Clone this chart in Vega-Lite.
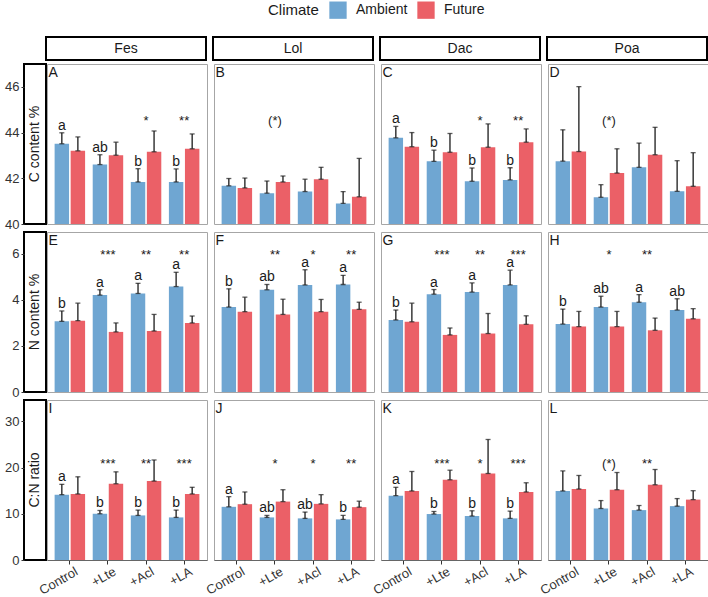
{
"$schema":"https://vega.github.io/schema/vega-lite/v6.json",
"padding":{"left":3,"top":1,"right":0,"bottom":0},
"config":{"font":"Liberation Sans","axis":{"labelFont":"Liberation Sans"},
"legend":{"orient":"none","legendX":244,"legendY":-36,"direction":"horizontal","titleOrient":"left","symbolType":"square","symbolSize":300,"symbolStrokeWidth":0,"symbolOpacity":1,"labelFontSize":14,"titleFontSize":15,"titleFontWeight":"normal","titleColor":"#1a1a1a","labelColor":"#1a1a1a","columnPadding":9,"labelOffset":9,"titlePadding":10}},
"data":{"values":[
{"v":"C","sp":"Fes","trt":"Control","cl":"Ambient","m":43.51,"u":43.99,"lab":"a","pl":"A"},
{"v":"C","sp":"Fes","trt":"Control","cl":"Future","m":43.20,"u":43.81},
{"v":"C","sp":"Fes","trt":"+Lte","cl":"Ambient","m":42.60,"u":43.03,"lab":"ab"},
{"v":"C","sp":"Fes","trt":"+Lte","cl":"Future","m":43.01,"u":43.58},
{"v":"C","sp":"Fes","trt":"+Acl","cl":"Ambient","m":41.84,"u":42.42,"lab":"b","st":"*"},
{"v":"C","sp":"Fes","trt":"+Acl","cl":"Future","m":43.16,"u":44.07},
{"v":"C","sp":"Fes","trt":"+LA","cl":"Ambient","m":41.84,"u":42.41,"lab":"b","st":"**"},
{"v":"C","sp":"Fes","trt":"+LA","cl":"Future","m":43.29,"u":43.94},
{"v":"C","sp":"Lol","trt":"Control","cl":"Ambient","m":41.67,"u":41.99,"pl":"B"},
{"v":"C","sp":"Lol","trt":"Control","cl":"Future","m":41.58,"u":42.01},
{"v":"C","sp":"Lol","trt":"+Lte","cl":"Ambient","m":41.35,"u":41.88,"st":"(*)"},
{"v":"C","sp":"Lol","trt":"+Lte","cl":"Future","m":41.84,"u":42.10},
{"v":"C","sp":"Lol","trt":"+Acl","cl":"Ambient","m":41.42,"u":41.96},
{"v":"C","sp":"Lol","trt":"+Acl","cl":"Future","m":41.96,"u":42.48},
{"v":"C","sp":"Lol","trt":"+LA","cl":"Ambient","m":40.90,"u":41.42},
{"v":"C","sp":"Lol","trt":"+LA","cl":"Future","m":41.19,"u":42.87},
{"v":"C","sp":"Dac","trt":"Control","cl":"Ambient","m":43.77,"u":44.27,"lab":"a","pl":"C"},
{"v":"C","sp":"Dac","trt":"Control","cl":"Future","m":43.38,"u":44.00},
{"v":"C","sp":"Dac","trt":"+Lte","cl":"Ambient","m":42.74,"u":43.23,"lab":"b"},
{"v":"C","sp":"Dac","trt":"+Lte","cl":"Future","m":43.14,"u":43.96},
{"v":"C","sp":"Dac","trt":"+Acl","cl":"Ambient","m":41.87,"u":42.45,"lab":"b","st":"*"},
{"v":"C","sp":"Dac","trt":"+Acl","cl":"Future","m":43.36,"u":44.38},
{"v":"C","sp":"Dac","trt":"+LA","cl":"Ambient","m":41.93,"u":42.46,"lab":"b","st":"**"},
{"v":"C","sp":"Dac","trt":"+LA","cl":"Future","m":43.58,"u":44.16},
{"v":"C","sp":"Poa","trt":"Control","cl":"Ambient","m":42.75,"u":44.12,"pl":"D"},
{"v":"C","sp":"Poa","trt":"Control","cl":"Future","m":43.17,"u":46.01},
{"v":"C","sp":"Poa","trt":"+Lte","cl":"Ambient","m":41.17,"u":41.72,"st":"(*)"},
{"v":"C","sp":"Poa","trt":"+Lte","cl":"Future","m":42.23,"u":43.29},
{"v":"C","sp":"Poa","trt":"+Acl","cl":"Ambient","m":42.48,"u":43.54},
{"v":"C","sp":"Poa","trt":"+Acl","cl":"Future","m":43.03,"u":44.23},
{"v":"C","sp":"Poa","trt":"+LA","cl":"Ambient","m":41.43,"u":42.77},
{"v":"C","sp":"Poa","trt":"+LA","cl":"Future","m":41.65,"u":43.12},
{"v":"N","sp":"Fes","trt":"Control","cl":"Ambient","m":3.07,"u":3.52,"lab":"b","pl":"E"},
{"v":"N","sp":"Fes","trt":"Control","cl":"Future","m":3.10,"u":3.86},
{"v":"N","sp":"Fes","trt":"+Lte","cl":"Ambient","m":4.21,"u":4.44,"lab":"a","st":"***"},
{"v":"N","sp":"Fes","trt":"+Lte","cl":"Future","m":2.61,"u":3.00},
{"v":"N","sp":"Fes","trt":"+Acl","cl":"Ambient","m":4.28,"u":4.72,"lab":"a","st":"**"},
{"v":"N","sp":"Fes","trt":"+Acl","cl":"Future","m":2.65,"u":3.37},
{"v":"N","sp":"Fes","trt":"+LA","cl":"Ambient","m":4.58,"u":5.20,"lab":"a","st":"**"},
{"v":"N","sp":"Fes","trt":"+LA","cl":"Future","m":3.00,"u":3.30},
{"v":"N","sp":"Lol","trt":"Control","cl":"Ambient","m":3.69,"u":4.48,"lab":"b","pl":"F"},
{"v":"N","sp":"Lol","trt":"Control","cl":"Future","m":3.49,"u":4.12},
{"v":"N","sp":"Lol","trt":"+Lte","cl":"Ambient","m":4.44,"u":4.67,"lab":"ab","st":"**"},
{"v":"N","sp":"Lol","trt":"+Lte","cl":"Future","m":3.37,"u":4.03},
{"v":"N","sp":"Lol","trt":"+Acl","cl":"Ambient","m":4.65,"u":5.31,"lab":"a","st":"*"},
{"v":"N","sp":"Lol","trt":"+Acl","cl":"Future","m":3.49,"u":4.02},
{"v":"N","sp":"Lol","trt":"+LA","cl":"Ambient","m":4.67,"u":5.07,"lab":"a","st":"**"},
{"v":"N","sp":"Lol","trt":"+LA","cl":"Future","m":3.59,"u":3.90},
{"v":"N","sp":"Dac","trt":"Control","cl":"Ambient","m":3.13,"u":3.56,"lab":"b","pl":"G"},
{"v":"N","sp":"Dac","trt":"Control","cl":"Future","m":3.05,"u":3.86},
{"v":"N","sp":"Dac","trt":"+Lte","cl":"Ambient","m":4.25,"u":4.45,"lab":"a","st":"***"},
{"v":"N","sp":"Dac","trt":"+Lte","cl":"Future","m":2.48,"u":2.78},
{"v":"N","sp":"Dac","trt":"+Acl","cl":"Ambient","m":4.34,"u":4.74,"lab":"a","st":"**"},
{"v":"N","sp":"Dac","trt":"+Acl","cl":"Future","m":2.54,"u":3.41},
{"v":"N","sp":"Dac","trt":"+LA","cl":"Ambient","m":4.65,"u":5.29,"lab":"a","st":"***"},
{"v":"N","sp":"Dac","trt":"+LA","cl":"Future","m":2.94,"u":3.31},
{"v":"N","sp":"Poa","trt":"Control","cl":"Ambient","m":2.95,"u":3.60,"lab":"b","pl":"H"},
{"v":"N","sp":"Poa","trt":"Control","cl":"Future","m":2.84,"u":3.50},
{"v":"N","sp":"Poa","trt":"+Lte","cl":"Ambient","m":3.69,"u":4.16,"lab":"ab","st":"*"},
{"v":"N","sp":"Poa","trt":"+Lte","cl":"Future","m":2.84,"u":3.50},
{"v":"N","sp":"Poa","trt":"+Acl","cl":"Ambient","m":3.90,"u":4.23,"lab":"a","st":"**"},
{"v":"N","sp":"Poa","trt":"+Acl","cl":"Future","m":2.68,"u":3.21},
{"v":"N","sp":"Poa","trt":"+LA","cl":"Ambient","m":3.56,"u":4.05,"lab":"ab"},
{"v":"N","sp":"Poa","trt":"+LA","cl":"Future","m":3.18,"u":3.62},
{"v":"CN","sp":"Fes","trt":"Control","cl":"Ambient","m":14.13,"u":16.36,"lab":"a","pl":"I"},
{"v":"CN","sp":"Fes","trt":"Control","cl":"Future","m":14.28,"u":17.99},
{"v":"CN","sp":"Fes","trt":"+Lte","cl":"Ambient","m":10.00,"u":10.71,"lab":"b","st":"***"},
{"v":"CN","sp":"Fes","trt":"+Lte","cl":"Future","m":16.49,"u":19.06},
{"v":"CN","sp":"Fes","trt":"+Acl","cl":"Ambient","m":9.64,"u":10.79,"lab":"b","st":"**"},
{"v":"CN","sp":"Fes","trt":"+Acl","cl":"Future","m":17.07,"u":21.63},
{"v":"CN","sp":"Fes","trt":"+LA","cl":"Ambient","m":9.21,"u":10.79,"lab":"b","st":"***"},
{"v":"CN","sp":"Fes","trt":"+LA","cl":"Future","m":14.28,"u":15.72},
{"v":"CN","sp":"Lol","trt":"Control","cl":"Ambient","m":11.50,"u":13.70,"lab":"a","pl":"J"},
{"v":"CN","sp":"Lol","trt":"Control","cl":"Future","m":12.07,"u":14.71},
{"v":"CN","sp":"Lol","trt":"+Lte","cl":"Ambient","m":9.21,"u":9.64,"lab":"ab","st":"*"},
{"v":"CN","sp":"Lol","trt":"+Lte","cl":"Future","m":12.63,"u":15.20},
{"v":"CN","sp":"Lol","trt":"+Acl","cl":"Ambient","m":9.00,"u":10.36,"lab":"ab","st":"*"},
{"v":"CN","sp":"Lol","trt":"+Acl","cl":"Future","m":12.14,"u":14.13},
{"v":"CN","sp":"Lol","trt":"+LA","cl":"Ambient","m":8.78,"u":9.64,"lab":"b","st":"**"},
{"v":"CN","sp":"Lol","trt":"+LA","cl":"Future","m":11.43,"u":12.72},
{"v":"CN","sp":"Dac","trt":"Control","cl":"Ambient","m":13.92,"u":15.72,"lab":"a","pl":"K"},
{"v":"CN","sp":"Dac","trt":"Control","cl":"Future","m":14.93,"u":19.14},
{"v":"CN","sp":"Dac","trt":"+Lte","cl":"Ambient","m":9.94,"u":10.49,"lab":"b","st":"***"},
{"v":"CN","sp":"Dac","trt":"+Lte","cl":"Future","m":17.35,"u":19.42},
{"v":"CN","sp":"Dac","trt":"+Acl","cl":"Ambient","m":9.51,"u":10.64,"lab":"b","st":"*"},
{"v":"CN","sp":"Dac","trt":"+Acl","cl":"Future","m":18.71,"u":26.06},
{"v":"CN","sp":"Dac","trt":"+LA","cl":"Ambient","m":9.00,"u":10.57,"lab":"b","st":"***"},
{"v":"CN","sp":"Dac","trt":"+LA","cl":"Future","m":14.71,"u":16.70},
{"v":"CN","sp":"Poa","trt":"Control","cl":"Ambient","m":14.93,"u":19.27,"pl":"L"},
{"v":"CN","sp":"Poa","trt":"Control","cl":"Future","m":15.35,"u":18.28},
{"v":"CN","sp":"Poa","trt":"+Lte","cl":"Ambient","m":11.14,"u":12.85,"st":"(*)"},
{"v":"CN","sp":"Poa","trt":"+Lte","cl":"Future","m":15.20,"u":18.92},
{"v":"CN","sp":"Poa","trt":"+Acl","cl":"Ambient","m":10.79,"u":11.78,"st":"**"},
{"v":"CN","sp":"Poa","trt":"+Acl","cl":"Future","m":16.27,"u":19.57},
{"v":"CN","sp":"Poa","trt":"+LA","cl":"Ambient","m":11.65,"u":13.28},
{"v":"CN","sp":"Poa","trt":"+LA","cl":"Future","m":13.06,"u":14.99}
]},
"spacing":2,
"vconcat":[
{"hconcat":[
 {"width":22,"height":23,"view":{"stroke":null},"data":{"values":[{"t":""}]},"mark":{"type":"text"},"encoding":{"text":{"field":"t"}}},
 {"hconcat":[
  {"width":160,"height":23,"view":{"stroke":"black","strokeWidth":2},"data":{"values":[{"t":"Fes"}]},"mark":{"type":"text","fontSize":14,"color":"#1a1a1a"},"encoding":{"text":{"field":"t"}}},
  {"width":160,"height":23,"view":{"stroke":"black","strokeWidth":2},"data":{"values":[{"t":"Lol"}]},"mark":{"type":"text","fontSize":14,"color":"#1a1a1a"},"encoding":{"text":{"field":"t"}}},
  {"width":160,"height":23,"view":{"stroke":"black","strokeWidth":2},"data":{"values":[{"t":"Dac"}]},"mark":{"type":"text","fontSize":14,"color":"#1a1a1a"},"encoding":{"text":{"field":"t"}}},
  {"width":160,"height":23,"view":{"stroke":"black","strokeWidth":2},"data":{"values":[{"t":"Poa"}]},"mark":{"type":"text","fontSize":14,"color":"#1a1a1a"},"encoding":{"text":{"field":"t"}}}
 ],"spacing":7,"bounds":"flush"}
],"spacing":-1},
{"vconcat":[
{"hconcat":[
 {"width":22,"height":160,"view":{"stroke":"black","strokeWidth":2},"data":{"values":[{"t":"C content %"}]},"mark":{"type":"text","angle":270,"fontSize":14,"color":"#1a1a1a","align":"center","baseline":"middle"},"encoding":{"y":{"datum":43.5,"type":"quantitative","scale":{"domain":[40,47],"nice":false,"zero":false},"axis":{"title":null,"values":[40,42,44,46],"domain":false,"grid":false,"labelFontSize":13,"labelColor":"#333","tickColor":"#333","tickSize":3,"labelPadding":2}},"text":{"field":"t"}}},
 {"hconcat":[
  {"width":160,"height":160,"view":{"stroke":"#a6a6a6"},"transform":[{"filter":"datum.v==='C'&&datum.sp==='Fes'"}],"encoding":{"x":{"field":"trt","type":"nominal","sort":["Control","+Lte","+Acl","+LA"],"scale":{"type":"band","paddingInner":0.2,"paddingOuter":0.2},"axis":null}},"layer":[
   {"mark":{"type":"bar","clip":true},"encoding":{"xOffset":{"field":"cl","type":"nominal","sort":["Ambient","Future"],"scale":{"paddingInner":0.1}},"y":{"field":"m","type":"quantitative","scale":{"domain":[40,47],"nice":false,"zero":false},"axis":null},"color":{"field":"cl","type":"nominal","title":"Climate","scale":{"domain":["Ambient","Future"],"range":["#6fa6d2","#eb6067"]}}}},
   {"mark":{"type":"rule","color":"#1a1a1a","strokeWidth":1.3},"encoding":{"xOffset":{"field":"cl","type":"nominal","sort":["Ambient","Future"]},"y":{"field":"m","type":"quantitative"},"y2":{"field":"u"}}},
   {"mark":{"type":"tick","color":"#1a1a1a","thickness":1.3,"size":5},"encoding":{"xOffset":{"field":"cl","type":"nominal","sort":["Ambient","Future"]},"y":{"field":"u","type":"quantitative"}}},
   {"mark":{"type":"tick","color":"#1a1a1a","thickness":1.3,"size":5},"encoding":{"xOffset":{"field":"cl","type":"nominal","sort":["Ambient","Future"]},"y":{"field":"m","type":"quantitative"}}},
   {"transform":[{"filter":"datum.lab"}],"mark":{"type":"text","fontSize":14,"baseline":"alphabetic","dy":-3,"color":"#1a1a1a"},"encoding":{"xOffset":{"field":"cl","type":"nominal","sort":["Ambient","Future"]},"y":{"field":"u","type":"quantitative"},"text":{"field":"lab"}}},
   {"transform":[{"filter":"datum.st"}],"mark":{"type":"text","fontSize":13,"baseline":"alphabetic","color":"#1a1a1a"},"encoding":{"y":{"datum":44.35},"text":{"field":"st"}}},
   {"transform":[{"filter":"datum.pl"}],"mark":{"type":"text","fontSize":14,"align":"left","baseline":"top","dx":-6,"dy":2,"color":"#1a1a1a"},"encoding":{"x":{"datum":"Control","bandPosition":0},"y":{"datum":47},"text":{"field":"pl"}}}
  ]},
  {"width":160,"height":160,"view":{"stroke":"#a6a6a6"},"transform":[{"filter":"datum.v==='C'&&datum.sp==='Lol'"}],"encoding":{"x":{"field":"trt","type":"nominal","sort":["Control","+Lte","+Acl","+LA"],"scale":{"type":"band","paddingInner":0.2,"paddingOuter":0.2},"axis":null}},"layer":[
   {"mark":{"type":"bar","clip":true},"encoding":{"xOffset":{"field":"cl","type":"nominal","sort":["Ambient","Future"],"scale":{"paddingInner":0.1}},"y":{"field":"m","type":"quantitative","scale":{"domain":[40,47],"nice":false,"zero":false},"axis":null},"color":{"field":"cl","type":"nominal","title":"Climate","scale":{"domain":["Ambient","Future"],"range":["#6fa6d2","#eb6067"]}}}},
   {"mark":{"type":"rule","color":"#1a1a1a","strokeWidth":1.3},"encoding":{"xOffset":{"field":"cl","type":"nominal","sort":["Ambient","Future"]},"y":{"field":"m","type":"quantitative"},"y2":{"field":"u"}}},
   {"mark":{"type":"tick","color":"#1a1a1a","thickness":1.3,"size":5},"encoding":{"xOffset":{"field":"cl","type":"nominal","sort":["Ambient","Future"]},"y":{"field":"u","type":"quantitative"}}},
   {"mark":{"type":"tick","color":"#1a1a1a","thickness":1.3,"size":5},"encoding":{"xOffset":{"field":"cl","type":"nominal","sort":["Ambient","Future"]},"y":{"field":"m","type":"quantitative"}}},
   {"transform":[{"filter":"datum.lab"}],"mark":{"type":"text","fontSize":14,"baseline":"alphabetic","dy":-3,"color":"#1a1a1a"},"encoding":{"xOffset":{"field":"cl","type":"nominal","sort":["Ambient","Future"]},"y":{"field":"u","type":"quantitative"},"text":{"field":"lab"}}},
   {"transform":[{"filter":"datum.st"}],"mark":{"type":"text","fontSize":13,"baseline":"alphabetic","color":"#1a1a1a"},"encoding":{"y":{"datum":44.35},"text":{"field":"st"}}},
   {"transform":[{"filter":"datum.pl"}],"mark":{"type":"text","fontSize":14,"align":"left","baseline":"top","dx":-6,"dy":2,"color":"#1a1a1a"},"encoding":{"x":{"datum":"Control","bandPosition":0},"y":{"datum":47},"text":{"field":"pl"}}}
  ]},
  {"width":160,"height":160,"view":{"stroke":"#a6a6a6"},"transform":[{"filter":"datum.v==='C'&&datum.sp==='Dac'"}],"encoding":{"x":{"field":"trt","type":"nominal","sort":["Control","+Lte","+Acl","+LA"],"scale":{"type":"band","paddingInner":0.2,"paddingOuter":0.2},"axis":null}},"layer":[
   {"mark":{"type":"bar","clip":true},"encoding":{"xOffset":{"field":"cl","type":"nominal","sort":["Ambient","Future"],"scale":{"paddingInner":0.1}},"y":{"field":"m","type":"quantitative","scale":{"domain":[40,47],"nice":false,"zero":false},"axis":null},"color":{"field":"cl","type":"nominal","title":"Climate","scale":{"domain":["Ambient","Future"],"range":["#6fa6d2","#eb6067"]}}}},
   {"mark":{"type":"rule","color":"#1a1a1a","strokeWidth":1.3},"encoding":{"xOffset":{"field":"cl","type":"nominal","sort":["Ambient","Future"]},"y":{"field":"m","type":"quantitative"},"y2":{"field":"u"}}},
   {"mark":{"type":"tick","color":"#1a1a1a","thickness":1.3,"size":5},"encoding":{"xOffset":{"field":"cl","type":"nominal","sort":["Ambient","Future"]},"y":{"field":"u","type":"quantitative"}}},
   {"mark":{"type":"tick","color":"#1a1a1a","thickness":1.3,"size":5},"encoding":{"xOffset":{"field":"cl","type":"nominal","sort":["Ambient","Future"]},"y":{"field":"m","type":"quantitative"}}},
   {"transform":[{"filter":"datum.lab"}],"mark":{"type":"text","fontSize":14,"baseline":"alphabetic","dy":-3,"color":"#1a1a1a"},"encoding":{"xOffset":{"field":"cl","type":"nominal","sort":["Ambient","Future"]},"y":{"field":"u","type":"quantitative"},"text":{"field":"lab"}}},
   {"transform":[{"filter":"datum.st"}],"mark":{"type":"text","fontSize":13,"baseline":"alphabetic","color":"#1a1a1a"},"encoding":{"y":{"datum":44.35},"text":{"field":"st"}}},
   {"transform":[{"filter":"datum.pl"}],"mark":{"type":"text","fontSize":14,"align":"left","baseline":"top","dx":-6,"dy":2,"color":"#1a1a1a"},"encoding":{"x":{"datum":"Control","bandPosition":0},"y":{"datum":47},"text":{"field":"pl"}}}
  ]},
  {"width":160,"height":160,"view":{"stroke":"#a6a6a6"},"transform":[{"filter":"datum.v==='C'&&datum.sp==='Poa'"}],"encoding":{"x":{"field":"trt","type":"nominal","sort":["Control","+Lte","+Acl","+LA"],"scale":{"type":"band","paddingInner":0.2,"paddingOuter":0.2},"axis":null}},"layer":[
   {"mark":{"type":"bar","clip":true},"encoding":{"xOffset":{"field":"cl","type":"nominal","sort":["Ambient","Future"],"scale":{"paddingInner":0.1}},"y":{"field":"m","type":"quantitative","scale":{"domain":[40,47],"nice":false,"zero":false},"axis":null},"color":{"field":"cl","type":"nominal","title":"Climate","scale":{"domain":["Ambient","Future"],"range":["#6fa6d2","#eb6067"]}}}},
   {"mark":{"type":"rule","color":"#1a1a1a","strokeWidth":1.3},"encoding":{"xOffset":{"field":"cl","type":"nominal","sort":["Ambient","Future"]},"y":{"field":"m","type":"quantitative"},"y2":{"field":"u"}}},
   {"mark":{"type":"tick","color":"#1a1a1a","thickness":1.3,"size":5},"encoding":{"xOffset":{"field":"cl","type":"nominal","sort":["Ambient","Future"]},"y":{"field":"u","type":"quantitative"}}},
   {"mark":{"type":"tick","color":"#1a1a1a","thickness":1.3,"size":5},"encoding":{"xOffset":{"field":"cl","type":"nominal","sort":["Ambient","Future"]},"y":{"field":"m","type":"quantitative"}}},
   {"transform":[{"filter":"datum.lab"}],"mark":{"type":"text","fontSize":14,"baseline":"alphabetic","dy":-3,"color":"#1a1a1a"},"encoding":{"xOffset":{"field":"cl","type":"nominal","sort":["Ambient","Future"]},"y":{"field":"u","type":"quantitative"},"text":{"field":"lab"}}},
   {"transform":[{"filter":"datum.st"}],"mark":{"type":"text","fontSize":13,"baseline":"alphabetic","color":"#1a1a1a"},"encoding":{"y":{"datum":44.35},"text":{"field":"st"}}},
   {"transform":[{"filter":"datum.pl"}],"mark":{"type":"text","fontSize":14,"align":"left","baseline":"top","dx":-6,"dy":2,"color":"#1a1a1a"},"encoding":{"x":{"datum":"Control","bandPosition":0},"y":{"datum":47},"text":{"field":"pl"}}}
  ]}
 ],"spacing":7,"bounds":"flush"}
],"spacing":-2},
{"hconcat":[
 {"width":22,"height":160,"view":{"stroke":"black","strokeWidth":2},"data":{"values":[{"t":"N content %"}]},"mark":{"type":"text","angle":270,"fontSize":14,"color":"#1a1a1a","align":"center","baseline":"middle"},"encoding":{"y":{"datum":3.475,"type":"quantitative","scale":{"domain":[0,6.95],"nice":false,"zero":false},"axis":{"title":null,"values":[0,2,4,6],"domain":false,"grid":false,"labelFontSize":13,"labelColor":"#333","tickColor":"#333","tickSize":3,"labelPadding":2}},"text":{"field":"t"}}},
 {"hconcat":[
  {"width":160,"height":160,"view":{"stroke":"#a6a6a6"},"transform":[{"filter":"datum.v==='N'&&datum.sp==='Fes'"}],"encoding":{"x":{"field":"trt","type":"nominal","sort":["Control","+Lte","+Acl","+LA"],"scale":{"type":"band","paddingInner":0.2,"paddingOuter":0.2},"axis":null}},"layer":[
   {"mark":{"type":"bar","clip":true},"encoding":{"xOffset":{"field":"cl","type":"nominal","sort":["Ambient","Future"],"scale":{"paddingInner":0.1}},"y":{"field":"m","type":"quantitative","scale":{"domain":[0,6.95],"nice":false,"zero":false},"axis":null},"color":{"field":"cl","type":"nominal","title":"Climate","scale":{"domain":["Ambient","Future"],"range":["#6fa6d2","#eb6067"]}}}},
   {"mark":{"type":"rule","color":"#1a1a1a","strokeWidth":1.3},"encoding":{"xOffset":{"field":"cl","type":"nominal","sort":["Ambient","Future"]},"y":{"field":"m","type":"quantitative"},"y2":{"field":"u"}}},
   {"mark":{"type":"tick","color":"#1a1a1a","thickness":1.3,"size":5},"encoding":{"xOffset":{"field":"cl","type":"nominal","sort":["Ambient","Future"]},"y":{"field":"u","type":"quantitative"}}},
   {"mark":{"type":"tick","color":"#1a1a1a","thickness":1.3,"size":5},"encoding":{"xOffset":{"field":"cl","type":"nominal","sort":["Ambient","Future"]},"y":{"field":"m","type":"quantitative"}}},
   {"transform":[{"filter":"datum.lab"}],"mark":{"type":"text","fontSize":14,"baseline":"alphabetic","dy":-3,"color":"#1a1a1a"},"encoding":{"xOffset":{"field":"cl","type":"nominal","sort":["Ambient","Future"]},"y":{"field":"u","type":"quantitative"},"text":{"field":"lab"}}},
   {"transform":[{"filter":"datum.st"}],"mark":{"type":"text","fontSize":13,"baseline":"alphabetic","color":"#1a1a1a"},"encoding":{"y":{"datum":5.78},"text":{"field":"st"}}},
   {"transform":[{"filter":"datum.pl"}],"mark":{"type":"text","fontSize":14,"align":"left","baseline":"top","dx":-6,"dy":2,"color":"#1a1a1a"},"encoding":{"x":{"datum":"Control","bandPosition":0},"y":{"datum":6.95},"text":{"field":"pl"}}}
  ]},
  {"width":160,"height":160,"view":{"stroke":"#a6a6a6"},"transform":[{"filter":"datum.v==='N'&&datum.sp==='Lol'"}],"encoding":{"x":{"field":"trt","type":"nominal","sort":["Control","+Lte","+Acl","+LA"],"scale":{"type":"band","paddingInner":0.2,"paddingOuter":0.2},"axis":null}},"layer":[
   {"mark":{"type":"bar","clip":true},"encoding":{"xOffset":{"field":"cl","type":"nominal","sort":["Ambient","Future"],"scale":{"paddingInner":0.1}},"y":{"field":"m","type":"quantitative","scale":{"domain":[0,6.95],"nice":false,"zero":false},"axis":null},"color":{"field":"cl","type":"nominal","title":"Climate","scale":{"domain":["Ambient","Future"],"range":["#6fa6d2","#eb6067"]}}}},
   {"mark":{"type":"rule","color":"#1a1a1a","strokeWidth":1.3},"encoding":{"xOffset":{"field":"cl","type":"nominal","sort":["Ambient","Future"]},"y":{"field":"m","type":"quantitative"},"y2":{"field":"u"}}},
   {"mark":{"type":"tick","color":"#1a1a1a","thickness":1.3,"size":5},"encoding":{"xOffset":{"field":"cl","type":"nominal","sort":["Ambient","Future"]},"y":{"field":"u","type":"quantitative"}}},
   {"mark":{"type":"tick","color":"#1a1a1a","thickness":1.3,"size":5},"encoding":{"xOffset":{"field":"cl","type":"nominal","sort":["Ambient","Future"]},"y":{"field":"m","type":"quantitative"}}},
   {"transform":[{"filter":"datum.lab"}],"mark":{"type":"text","fontSize":14,"baseline":"alphabetic","dy":-3,"color":"#1a1a1a"},"encoding":{"xOffset":{"field":"cl","type":"nominal","sort":["Ambient","Future"]},"y":{"field":"u","type":"quantitative"},"text":{"field":"lab"}}},
   {"transform":[{"filter":"datum.st"}],"mark":{"type":"text","fontSize":13,"baseline":"alphabetic","color":"#1a1a1a"},"encoding":{"y":{"datum":5.78},"text":{"field":"st"}}},
   {"transform":[{"filter":"datum.pl"}],"mark":{"type":"text","fontSize":14,"align":"left","baseline":"top","dx":-6,"dy":2,"color":"#1a1a1a"},"encoding":{"x":{"datum":"Control","bandPosition":0},"y":{"datum":6.95},"text":{"field":"pl"}}}
  ]},
  {"width":160,"height":160,"view":{"stroke":"#a6a6a6"},"transform":[{"filter":"datum.v==='N'&&datum.sp==='Dac'"}],"encoding":{"x":{"field":"trt","type":"nominal","sort":["Control","+Lte","+Acl","+LA"],"scale":{"type":"band","paddingInner":0.2,"paddingOuter":0.2},"axis":null}},"layer":[
   {"mark":{"type":"bar","clip":true},"encoding":{"xOffset":{"field":"cl","type":"nominal","sort":["Ambient","Future"],"scale":{"paddingInner":0.1}},"y":{"field":"m","type":"quantitative","scale":{"domain":[0,6.95],"nice":false,"zero":false},"axis":null},"color":{"field":"cl","type":"nominal","title":"Climate","scale":{"domain":["Ambient","Future"],"range":["#6fa6d2","#eb6067"]}}}},
   {"mark":{"type":"rule","color":"#1a1a1a","strokeWidth":1.3},"encoding":{"xOffset":{"field":"cl","type":"nominal","sort":["Ambient","Future"]},"y":{"field":"m","type":"quantitative"},"y2":{"field":"u"}}},
   {"mark":{"type":"tick","color":"#1a1a1a","thickness":1.3,"size":5},"encoding":{"xOffset":{"field":"cl","type":"nominal","sort":["Ambient","Future"]},"y":{"field":"u","type":"quantitative"}}},
   {"mark":{"type":"tick","color":"#1a1a1a","thickness":1.3,"size":5},"encoding":{"xOffset":{"field":"cl","type":"nominal","sort":["Ambient","Future"]},"y":{"field":"m","type":"quantitative"}}},
   {"transform":[{"filter":"datum.lab"}],"mark":{"type":"text","fontSize":14,"baseline":"alphabetic","dy":-3,"color":"#1a1a1a"},"encoding":{"xOffset":{"field":"cl","type":"nominal","sort":["Ambient","Future"]},"y":{"field":"u","type":"quantitative"},"text":{"field":"lab"}}},
   {"transform":[{"filter":"datum.st"}],"mark":{"type":"text","fontSize":13,"baseline":"alphabetic","color":"#1a1a1a"},"encoding":{"y":{"datum":5.78},"text":{"field":"st"}}},
   {"transform":[{"filter":"datum.pl"}],"mark":{"type":"text","fontSize":14,"align":"left","baseline":"top","dx":-6,"dy":2,"color":"#1a1a1a"},"encoding":{"x":{"datum":"Control","bandPosition":0},"y":{"datum":6.95},"text":{"field":"pl"}}}
  ]},
  {"width":160,"height":160,"view":{"stroke":"#a6a6a6"},"transform":[{"filter":"datum.v==='N'&&datum.sp==='Poa'"}],"encoding":{"x":{"field":"trt","type":"nominal","sort":["Control","+Lte","+Acl","+LA"],"scale":{"type":"band","paddingInner":0.2,"paddingOuter":0.2},"axis":null}},"layer":[
   {"mark":{"type":"bar","clip":true},"encoding":{"xOffset":{"field":"cl","type":"nominal","sort":["Ambient","Future"],"scale":{"paddingInner":0.1}},"y":{"field":"m","type":"quantitative","scale":{"domain":[0,6.95],"nice":false,"zero":false},"axis":null},"color":{"field":"cl","type":"nominal","title":"Climate","scale":{"domain":["Ambient","Future"],"range":["#6fa6d2","#eb6067"]}}}},
   {"mark":{"type":"rule","color":"#1a1a1a","strokeWidth":1.3},"encoding":{"xOffset":{"field":"cl","type":"nominal","sort":["Ambient","Future"]},"y":{"field":"m","type":"quantitative"},"y2":{"field":"u"}}},
   {"mark":{"type":"tick","color":"#1a1a1a","thickness":1.3,"size":5},"encoding":{"xOffset":{"field":"cl","type":"nominal","sort":["Ambient","Future"]},"y":{"field":"u","type":"quantitative"}}},
   {"mark":{"type":"tick","color":"#1a1a1a","thickness":1.3,"size":5},"encoding":{"xOffset":{"field":"cl","type":"nominal","sort":["Ambient","Future"]},"y":{"field":"m","type":"quantitative"}}},
   {"transform":[{"filter":"datum.lab"}],"mark":{"type":"text","fontSize":14,"baseline":"alphabetic","dy":-3,"color":"#1a1a1a"},"encoding":{"xOffset":{"field":"cl","type":"nominal","sort":["Ambient","Future"]},"y":{"field":"u","type":"quantitative"},"text":{"field":"lab"}}},
   {"transform":[{"filter":"datum.st"}],"mark":{"type":"text","fontSize":13,"baseline":"alphabetic","color":"#1a1a1a"},"encoding":{"y":{"datum":5.78},"text":{"field":"st"}}},
   {"transform":[{"filter":"datum.pl"}],"mark":{"type":"text","fontSize":14,"align":"left","baseline":"top","dx":-6,"dy":2,"color":"#1a1a1a"},"encoding":{"x":{"datum":"Control","bandPosition":0},"y":{"datum":6.95},"text":{"field":"pl"}}}
  ]}
 ],"spacing":7,"bounds":"flush"}
],"spacing":-2},
{"hconcat":[
 {"width":22,"height":160,"view":{"stroke":"black","strokeWidth":2},"data":{"values":[{"t":"C:N ratio"}]},"mark":{"type":"text","angle":270,"fontSize":14,"color":"#1a1a1a","align":"center","baseline":"middle"},"encoding":{"y":{"datum":17.3,"type":"quantitative","scale":{"domain":[0,34.6],"nice":false,"zero":false},"axis":{"title":null,"values":[0,10,20,30],"domain":false,"grid":false,"labelFontSize":13,"labelColor":"#333","tickColor":"#333","tickSize":3,"labelPadding":2}},"text":{"field":"t"}}},
 {"hconcat":[
  {"width":160,"height":160,"view":{"stroke":"#a6a6a6"},"transform":[{"filter":"datum.v==='CN'&&datum.sp==='Fes'"}],"encoding":{"x":{"field":"trt","type":"nominal","sort":["Control","+Lte","+Acl","+LA"],"scale":{"type":"band","paddingInner":0.2,"paddingOuter":0.2},"axis":{"title":null,"labelAngle":-30,"labelFontSize":13,"labelOffset":4,"labelColor":"#333","tickColor":"#333","tickSize":4,"domainColor":"#666","labelPadding":1}}},"layer":[
   {"mark":{"type":"bar","clip":true},"encoding":{"xOffset":{"field":"cl","type":"nominal","sort":["Ambient","Future"],"scale":{"paddingInner":0.1}},"y":{"field":"m","type":"quantitative","scale":{"domain":[0,34.6],"nice":false,"zero":false},"axis":null},"color":{"field":"cl","type":"nominal","title":"Climate","scale":{"domain":["Ambient","Future"],"range":["#6fa6d2","#eb6067"]}}}},
   {"mark":{"type":"rule","color":"#1a1a1a","strokeWidth":1.3},"encoding":{"xOffset":{"field":"cl","type":"nominal","sort":["Ambient","Future"]},"y":{"field":"m","type":"quantitative"},"y2":{"field":"u"}}},
   {"mark":{"type":"tick","color":"#1a1a1a","thickness":1.3,"size":5},"encoding":{"xOffset":{"field":"cl","type":"nominal","sort":["Ambient","Future"]},"y":{"field":"u","type":"quantitative"}}},
   {"mark":{"type":"tick","color":"#1a1a1a","thickness":1.3,"size":5},"encoding":{"xOffset":{"field":"cl","type":"nominal","sort":["Ambient","Future"]},"y":{"field":"m","type":"quantitative"}}},
   {"transform":[{"filter":"datum.lab"}],"mark":{"type":"text","fontSize":14,"baseline":"alphabetic","dy":-3,"color":"#1a1a1a"},"encoding":{"xOffset":{"field":"cl","type":"nominal","sort":["Ambient","Future"]},"y":{"field":"u","type":"quantitative"},"text":{"field":"lab"}}},
   {"transform":[{"filter":"datum.st"}],"mark":{"type":"text","fontSize":13,"baseline":"alphabetic","color":"#1a1a1a"},"encoding":{"y":{"datum":19.95},"text":{"field":"st"}}},
   {"transform":[{"filter":"datum.pl"}],"mark":{"type":"text","fontSize":14,"align":"left","baseline":"top","dx":-6,"dy":2,"color":"#1a1a1a"},"encoding":{"x":{"datum":"Control","bandPosition":0},"y":{"datum":34.6},"text":{"field":"pl"}}}
  ]},
  {"width":160,"height":160,"view":{"stroke":"#a6a6a6"},"transform":[{"filter":"datum.v==='CN'&&datum.sp==='Lol'"}],"encoding":{"x":{"field":"trt","type":"nominal","sort":["Control","+Lte","+Acl","+LA"],"scale":{"type":"band","paddingInner":0.2,"paddingOuter":0.2},"axis":{"title":null,"labelAngle":-30,"labelFontSize":13,"labelOffset":4,"labelColor":"#333","tickColor":"#333","tickSize":4,"domainColor":"#666","labelPadding":1}}},"layer":[
   {"mark":{"type":"bar","clip":true},"encoding":{"xOffset":{"field":"cl","type":"nominal","sort":["Ambient","Future"],"scale":{"paddingInner":0.1}},"y":{"field":"m","type":"quantitative","scale":{"domain":[0,34.6],"nice":false,"zero":false},"axis":null},"color":{"field":"cl","type":"nominal","title":"Climate","scale":{"domain":["Ambient","Future"],"range":["#6fa6d2","#eb6067"]}}}},
   {"mark":{"type":"rule","color":"#1a1a1a","strokeWidth":1.3},"encoding":{"xOffset":{"field":"cl","type":"nominal","sort":["Ambient","Future"]},"y":{"field":"m","type":"quantitative"},"y2":{"field":"u"}}},
   {"mark":{"type":"tick","color":"#1a1a1a","thickness":1.3,"size":5},"encoding":{"xOffset":{"field":"cl","type":"nominal","sort":["Ambient","Future"]},"y":{"field":"u","type":"quantitative"}}},
   {"mark":{"type":"tick","color":"#1a1a1a","thickness":1.3,"size":5},"encoding":{"xOffset":{"field":"cl","type":"nominal","sort":["Ambient","Future"]},"y":{"field":"m","type":"quantitative"}}},
   {"transform":[{"filter":"datum.lab"}],"mark":{"type":"text","fontSize":14,"baseline":"alphabetic","dy":-3,"color":"#1a1a1a"},"encoding":{"xOffset":{"field":"cl","type":"nominal","sort":["Ambient","Future"]},"y":{"field":"u","type":"quantitative"},"text":{"field":"lab"}}},
   {"transform":[{"filter":"datum.st"}],"mark":{"type":"text","fontSize":13,"baseline":"alphabetic","color":"#1a1a1a"},"encoding":{"y":{"datum":19.95},"text":{"field":"st"}}},
   {"transform":[{"filter":"datum.pl"}],"mark":{"type":"text","fontSize":14,"align":"left","baseline":"top","dx":-6,"dy":2,"color":"#1a1a1a"},"encoding":{"x":{"datum":"Control","bandPosition":0},"y":{"datum":34.6},"text":{"field":"pl"}}}
  ]},
  {"width":160,"height":160,"view":{"stroke":"#a6a6a6"},"transform":[{"filter":"datum.v==='CN'&&datum.sp==='Dac'"}],"encoding":{"x":{"field":"trt","type":"nominal","sort":["Control","+Lte","+Acl","+LA"],"scale":{"type":"band","paddingInner":0.2,"paddingOuter":0.2},"axis":{"title":null,"labelAngle":-30,"labelFontSize":13,"labelOffset":4,"labelColor":"#333","tickColor":"#333","tickSize":4,"domainColor":"#666","labelPadding":1}}},"layer":[
   {"mark":{"type":"bar","clip":true},"encoding":{"xOffset":{"field":"cl","type":"nominal","sort":["Ambient","Future"],"scale":{"paddingInner":0.1}},"y":{"field":"m","type":"quantitative","scale":{"domain":[0,34.6],"nice":false,"zero":false},"axis":null},"color":{"field":"cl","type":"nominal","title":"Climate","scale":{"domain":["Ambient","Future"],"range":["#6fa6d2","#eb6067"]}}}},
   {"mark":{"type":"rule","color":"#1a1a1a","strokeWidth":1.3},"encoding":{"xOffset":{"field":"cl","type":"nominal","sort":["Ambient","Future"]},"y":{"field":"m","type":"quantitative"},"y2":{"field":"u"}}},
   {"mark":{"type":"tick","color":"#1a1a1a","thickness":1.3,"size":5},"encoding":{"xOffset":{"field":"cl","type":"nominal","sort":["Ambient","Future"]},"y":{"field":"u","type":"quantitative"}}},
   {"mark":{"type":"tick","color":"#1a1a1a","thickness":1.3,"size":5},"encoding":{"xOffset":{"field":"cl","type":"nominal","sort":["Ambient","Future"]},"y":{"field":"m","type":"quantitative"}}},
   {"transform":[{"filter":"datum.lab"}],"mark":{"type":"text","fontSize":14,"baseline":"alphabetic","dy":-3,"color":"#1a1a1a"},"encoding":{"xOffset":{"field":"cl","type":"nominal","sort":["Ambient","Future"]},"y":{"field":"u","type":"quantitative"},"text":{"field":"lab"}}},
   {"transform":[{"filter":"datum.st"}],"mark":{"type":"text","fontSize":13,"baseline":"alphabetic","color":"#1a1a1a"},"encoding":{"y":{"datum":19.95},"text":{"field":"st"}}},
   {"transform":[{"filter":"datum.pl"}],"mark":{"type":"text","fontSize":14,"align":"left","baseline":"top","dx":-6,"dy":2,"color":"#1a1a1a"},"encoding":{"x":{"datum":"Control","bandPosition":0},"y":{"datum":34.6},"text":{"field":"pl"}}}
  ]},
  {"width":160,"height":160,"view":{"stroke":"#a6a6a6"},"transform":[{"filter":"datum.v==='CN'&&datum.sp==='Poa'"}],"encoding":{"x":{"field":"trt","type":"nominal","sort":["Control","+Lte","+Acl","+LA"],"scale":{"type":"band","paddingInner":0.2,"paddingOuter":0.2},"axis":{"title":null,"labelAngle":-30,"labelFontSize":13,"labelOffset":4,"labelColor":"#333","tickColor":"#333","tickSize":4,"domainColor":"#666","labelPadding":1}}},"layer":[
   {"mark":{"type":"bar","clip":true},"encoding":{"xOffset":{"field":"cl","type":"nominal","sort":["Ambient","Future"],"scale":{"paddingInner":0.1}},"y":{"field":"m","type":"quantitative","scale":{"domain":[0,34.6],"nice":false,"zero":false},"axis":null},"color":{"field":"cl","type":"nominal","title":"Climate","scale":{"domain":["Ambient","Future"],"range":["#6fa6d2","#eb6067"]}}}},
   {"mark":{"type":"rule","color":"#1a1a1a","strokeWidth":1.3},"encoding":{"xOffset":{"field":"cl","type":"nominal","sort":["Ambient","Future"]},"y":{"field":"m","type":"quantitative"},"y2":{"field":"u"}}},
   {"mark":{"type":"tick","color":"#1a1a1a","thickness":1.3,"size":5},"encoding":{"xOffset":{"field":"cl","type":"nominal","sort":["Ambient","Future"]},"y":{"field":"u","type":"quantitative"}}},
   {"mark":{"type":"tick","color":"#1a1a1a","thickness":1.3,"size":5},"encoding":{"xOffset":{"field":"cl","type":"nominal","sort":["Ambient","Future"]},"y":{"field":"m","type":"quantitative"}}},
   {"transform":[{"filter":"datum.lab"}],"mark":{"type":"text","fontSize":14,"baseline":"alphabetic","dy":-3,"color":"#1a1a1a"},"encoding":{"xOffset":{"field":"cl","type":"nominal","sort":["Ambient","Future"]},"y":{"field":"u","type":"quantitative"},"text":{"field":"lab"}}},
   {"transform":[{"filter":"datum.st"}],"mark":{"type":"text","fontSize":13,"baseline":"alphabetic","color":"#1a1a1a"},"encoding":{"y":{"datum":19.95},"text":{"field":"st"}}},
   {"transform":[{"filter":"datum.pl"}],"mark":{"type":"text","fontSize":14,"align":"left","baseline":"top","dx":-6,"dy":2,"color":"#1a1a1a"},"encoding":{"x":{"datum":"Control","bandPosition":0},"y":{"datum":34.6},"text":{"field":"pl"}}}
  ]}
 ],"spacing":7,"bounds":"flush"}
],"spacing":-17}
],"spacing":-1}
]
}
